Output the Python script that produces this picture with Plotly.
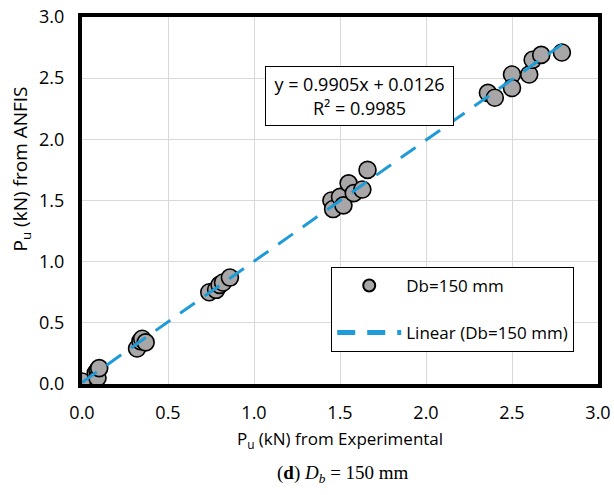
import numpy as np
import plotly.graph_objects as go

# Data
x_exp = [0.00, 0.08, 0.09, 0.09, 0.10, 0.32, 0.34, 0.35, 0.37, 0.74, 0.78, 0.80, 0.82, 0.86,
         1.45, 1.46, 1.50, 1.52, 1.55, 1.58, 1.63, 1.66, 2.36, 2.40, 2.50, 2.50, 2.60, 2.62, 2.67, 2.79]
y_anfis = [0.02, 0.09, 0.11, 0.05, 0.13, 0.29, 0.35, 0.37, 0.34, 0.75, 0.77, 0.81, 0.83, 0.87,
           1.50, 1.43, 1.53, 1.46, 1.64, 1.56, 1.59, 1.75, 2.38, 2.34, 2.53, 2.42, 2.53, 2.65, 2.69, 2.71]
slope = 0.9905
intercept = 0.0126
r2 = 0.9985
series_name = "Db=150 mm"
tick_vals = [0.0, 0.5, 1.0, 1.5, 2.0, 2.5, 3.0]
tick_text = ["0.0", "0.5", "1.0", "1.5", "2.0", "2.5", "3.0"]

font_main = "Open Sans, Liberation Sans, Arial, sans-serif"
blue = "#1F9BD7"

xt = np.array([min(x_exp), max(x_exp)])
yt = slope * xt + intercept

fig = go.Figure()
fig.add_trace(go.Scatter(
    x=x_exp, y=y_anfis, mode="markers", name=series_name,
    marker=dict(size=17, color="#A8A6A6", line=dict(color="black", width=1.6)),
    legendgroup="a", legendrank=1,
))
fig.add_trace(go.Scatter(
    x=xt, y=yt, mode="lines", name=f"Linear ({series_name})",
    line=dict(color=blue, width=3, dash="18px,12px"),
    legendgroup="b", legendrank=2,
))

fig.add_annotation(
    x=1.616, y=2.355, xref="x", yref="y", showarrow=False,
    text=f"y = {slope}x + {intercept}<br>R² = {r2}",
    font=dict(family=font_main, size=18, color="black"),
    bgcolor="white", bordercolor="black", borderwidth=1,
    width=185, height=56, align="center",
)

# y-axis title (placed as a rotated annotation to match its position)
fig.add_annotation(
    x=-0.118, y=0.585, xref="paper", yref="paper", showarrow=False,
    text="P<sub>u</sub> (kN) from ANFIS", textangle=-90,
    font=dict(family=font_main, size=19, color="black"),
    xanchor="center", yanchor="middle",
)

fig.add_annotation(
    x=0.505, y=-0.245, xref="paper", yref="paper", showarrow=False,
    text="(<b>d</b>) <i>D<sub>b</sub></i> = 150 mm",
    font=dict(family="Liberation Serif, DejaVu Serif, serif", size=19, color="black"),
    xanchor="center", yanchor="middle",
)

axis_common = dict(
    range=[0, 3.0], tickvals=tick_vals, ticktext=tick_text,
    showgrid=True, gridcolor="#D9D9D9", gridwidth=1,
    showline=True, linecolor="black", linewidth=4, mirror=True,
    zeroline=False, ticks="outside", tickcolor="rgba(0,0,0,0)",
    tickfont=dict(family=font_main, size=18, color="black"),
    automargin=False,
)

fig.update_layout(
    width=614, height=495,
    margin=dict(l=82, r=16, t=17, b=111),
    paper_bgcolor="white", plot_bgcolor="white",
    showlegend=True,
    legend=dict(
        x=0.483, y=0.319, xanchor="left", yanchor="top",
        bgcolor="white", bordercolor="black", borderwidth=1,
        font=dict(family=font_main, size=17, color="black"),
        tracegroupgap=22, itemsizing="constant", itemwidth=64,
        traceorder="grouped",
    ),
    xaxis=dict(**axis_common, ticklen=9,
               title=dict(text="P<sub>u</sub> (kN) from Experimental",
                          font=dict(family=font_main, size=17, color="black"), standoff=12)),
    yaxis=dict(**axis_common, ticklen=10),
)

fig.write_html("out.html", config={"displayModeBar": False},
               post_script="document.body.style.margin='0px';")
